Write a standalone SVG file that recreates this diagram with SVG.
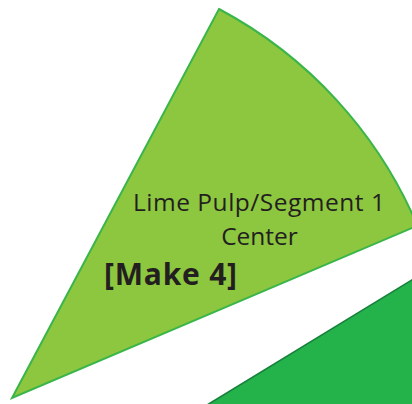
<svg xmlns="http://www.w3.org/2000/svg" width="412" height="404" viewBox="0 0 412 404">
  <style>
    .lbl { font-family: "Open Sans", "Noto Sans", "Liberation Sans", sans-serif; fill: #231F20; }
  </style>
  <rect width="412" height="404" fill="#FFFFFF"/>
  <g id="segment-dark">
    <path d="M207,405 L420,275 L420,410 Z" fill="#24B24B"/>
    <line x1="207" y1="405" x2="420" y2="275" stroke="#16803A" stroke-width="1.6"/>
  </g>
  <g id="segment-lime">
    <path d="M12,398 L219,9 A440.6,440.6 0 0 1 417.5,225.7 Z" fill="#8DC63F" stroke="#39B54A" stroke-width="2" stroke-linejoin="miter"/>
    <text class="lbl" x="259" y="211" font-size="24.5" text-anchor="middle" textLength="252">Lime Pulp/Segment 1</text>
    <text class="lbl" x="259.5" y="245" font-size="24.5" text-anchor="middle">Center</text>
    <text class="lbl" x="104" y="285" font-size="30" font-weight="bold" textLength="133">[Make 4]</text>
  </g>
</svg>
